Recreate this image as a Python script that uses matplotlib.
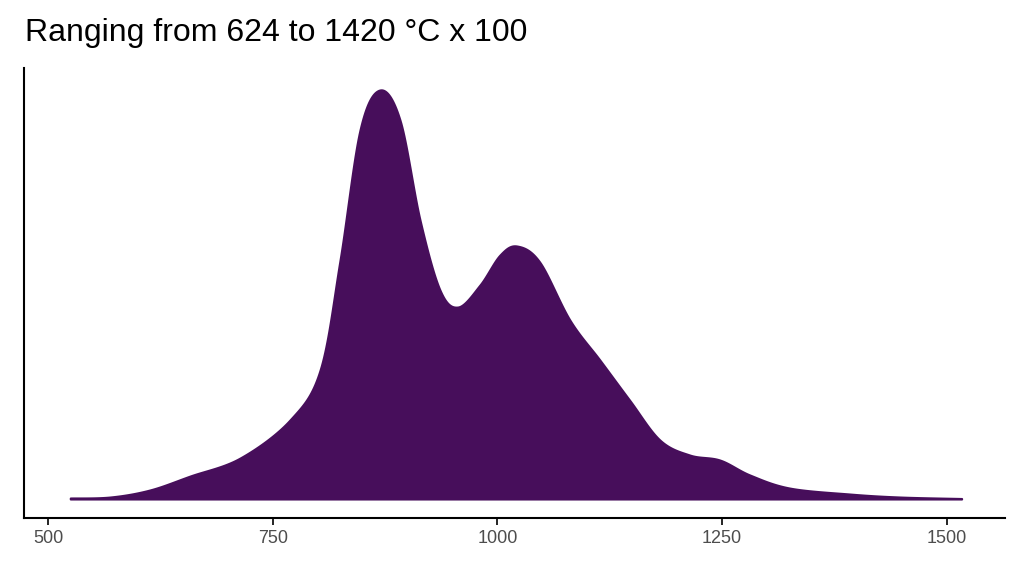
import numpy as np
import matplotlib
matplotlib.use("Agg")
import matplotlib.pyplot as plt

temp = [524.5, 569, 613, 658, 713.6, 769, 802.6, 824.8, 847, 869, 891.5, 913.8, 936, 956,
        980.5, 1002.8, 1021.7, 1047, 1080.6, 1114, 1147, 1180.8, 1214, 1247.5, 1281, 1325,
        1392, 1447.7, 1516.7]
density = [1, 2, 9, 23, 41, 79, 129, 239, 369, 409, 379, 279, 209, 192,
           214, 244, 253, 237, 179, 139, 99, 59, 44, 39, 24, 11, 5, 2, 0.5]

# smooth with Catmull-Rom through the read points
x = np.array(temp); y = np.array(density)
xs, ys = [], []
for i in range(len(x) - 1):
    p0 = max(i - 1, 0); p3 = min(i + 2, len(x) - 1)
    t = np.linspace(0, 1, 20, endpoint=False)
    for arr, out in ((x, xs), (y, ys)):
        a, b, c, d = arr[p0], arr[i], arr[i + 1], arr[p3]
        out.extend(0.5 * (2 * b + (-a + c) * t + (2 * a - 5 * b + 4 * c - d) * t**2 + (-a + 3 * b - 3 * c + d) * t**3))
xs.append(x[-1]); ys.append(y[-1])
ys = np.clip(ys, 0, None)

fig = plt.figure(figsize=(10.24, 5.76), dpi=100)
ax = fig.add_axes([24/1024, 58/576, 981/1024, 450/576])
ax.fill_between(xs, ys, 0, color='#470E5B', lw=1.5, edgecolor='#470E5B')
ax.set_xlim(473, 1565)
ax.set_ylim(-19, 431)
ax.set_xticks([500, 750, 1000, 1250, 1500])
ax.set_yticks([])
for s in ['top', 'right']:
    ax.spines[s].set_visible(False)
for s in ['left', 'bottom']:
    ax.spines[s].set_linewidth(1.5)
ax.tick_params(axis='x', labelsize=13, labelcolor='#4d4d4d', length=5, width=1.2,
               labelfontfamily='Liberation Sans')
fig.text(25/1024, 1 - 33/576, 'Ranging from 624 to 1420 °C x 100', fontsize=23,
         family='Liberation Sans', va='center', ha='left')
fig.savefig('out.png', dpi=100)
